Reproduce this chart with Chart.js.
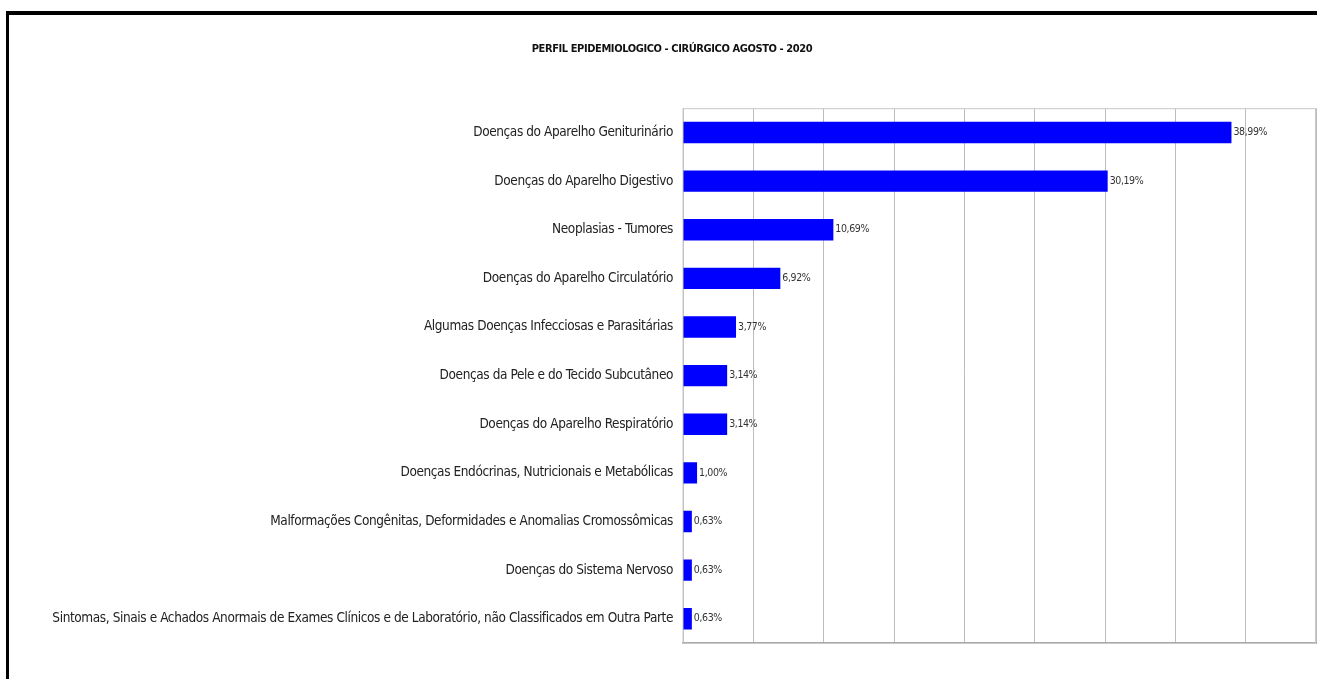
<!DOCTYPE html>
<html>
<head>
<meta charset="utf-8">
<script src="https://cdn.jsdelivr.net/npm/chart.js@4.4.0/dist/chart.umd.min.js"></script>
<style>
body{margin:0;background:#fff;}
#wrap{position:relative;width:1317px;height:679px;overflow:hidden;}
#frame{position:absolute;left:6px;top:11px;width:1400px;height:700px;border-top:4px solid #000;border-left:3px solid #000;pointer-events:none;}
canvas{position:absolute;left:0;top:0;}
</style>
</head>
<body>
<div id="wrap">
<canvas id="myChart" width="1317" height="679"></canvas>
<div id="frame"></div>
</div>
<script>
//categorias (de cima para baixo)
const categorias = [
	'Doenças do Aparelho Geniturinário',
	'Doenças do Aparelho Digestivo',
	'Neoplasias - Tumores',
	'Doenças do Aparelho Circulatório',
	'Algumas Doenças Infecciosas e Parasitárias',
	'Doenças da Pele e do Tecido Subcutâneo',
	'Doenças do Aparelho Respiratório',
	'Doenças Endócrinas, Nutricionais e Metabólicas',
	'Malformações Congênitas, Deformidades e Anomalias Cromossômicas',
	'Doenças do Sistema Nervoso',
	'Sintomas, Sinais e Achados Anormais de Exames Clínicos e de Laboratório, não Classificados em Outra Parte'
];
//percentuais
const percentuais = [38.99, 30.19, 10.69, 6.92, 3.77, 3.14, 3.14, 1.00, 0.63, 0.63, 0.63];
const titulo = 'PERFIL EPIDEMIOLOGICO - CIRÚRGICO AGOSTO - 2020';
const fonte = '"DejaVu Sans Condensed", "DejaVu Sans", sans-serif';

//texto mais apertado (parecido com calibri)
const apertado = {
	id: 'apertado',
	beforeDraw(chart) {
		chart.ctx.letterSpacing = '-0.4px';
	}
};

//rotulo de valor no fim da barra
const rotulos = {
	id: 'rotulos',
	afterDatasetsDraw(chart) {
		const ctx = chart.ctx;
		const meta = chart.getDatasetMeta(0);
		ctx.save();
		ctx.font = '10.5px ' + fonte;
		ctx.fillStyle = '#333';
		ctx.textBaseline = 'middle';
		meta.data.forEach(function(bar, i) {
			let txt = percentuais[i].toFixed(2).replace('.', ',') + '%';
			ctx.fillText(txt, bar.x + 2, bar.y);
		});
		ctx.restore();
	}
};

//moldura da area do grafico
const moldura = {
	id: 'moldura',
	beforeDatasetsDraw(chart) {
		const a = chart.chartArea;
		const ctx = chart.ctx;
		ctx.save();
		ctx.strokeStyle = '#c8c8c8';
		ctx.lineWidth = 1;
		ctx.strokeRect(a.left, a.top + 0.5, a.right - a.left - 0.5, a.bottom - a.top);
		ctx.restore();
	}
};

const ctx = document.getElementById('myChart');
new Chart(ctx, {
	type: 'bar',
	data: {
		labels: categorias,
		datasets: [{
			data: percentuais,
			backgroundColor: '#0000ff',
			barPercentage: 0.44,
			categoryPercentage: 1
		}]
	},
	options: {
		indexAxis: 'y',
		responsive: false,
		animation: false,
		layout: { padding: { left: 28, right: 1, top: 0, bottom: 36 } },
		plugins: {
			legend: { display: false },
			tooltip: { enabled: false },
			title: {
				display: true,
				text: titulo,
				color: '#111',
				font: { family: fonte, size: 11, weight: 'bold' },
				padding: { top: 43, bottom: 52 }
			}
		},
		scales: {
			x: {
				min: 0,
				max: 45,
				ticks: { display: false, stepSize: 5 },
				grid: { color: '#bdbdbd', drawTicks: false },
				border: { color: '#aaaaaa', width: 2 }
			},
			y: {
				grid: { display: false, drawTicks: false },
				border: { display: false },
				ticks: {
					color: '#222',
					padding: 10,
					font: { family: fonte, size: 13.5 }
				},
				afterFit(scale) { scale.width = 655; }
			}
		}
	},
	plugins: [apertado, moldura, rotulos]
});
</script>
</body>
</html>
